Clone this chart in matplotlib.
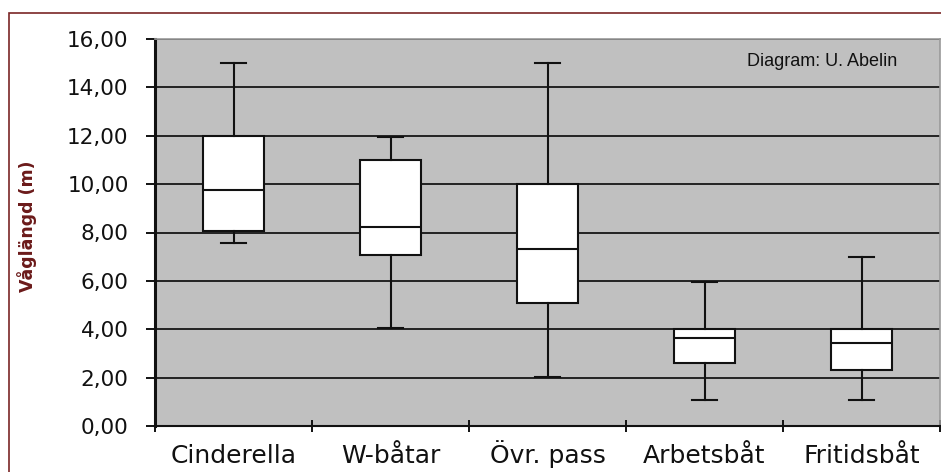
import matplotlib
matplotlib.use("Agg")
import matplotlib.pyplot as plt
from matplotlib.patches import Rectangle
from matplotlib.ticker import FixedLocator, FuncFormatter

# values (Våglängd, m)
categories = ['Cinderella', 'W-båtar', 'Övr. pass', 'Arbetsbåt', 'Fritidsbåt']
whislo = [7.55, 4.05, 2.04, 1.07, 1.07]
q1 = [8.05, 7.07, 5.07, 2.62, 2.31]
med = [9.74, 8.21, 7.30, 3.63, 3.44]
q3 = [12.0, 11.0, 10.0, 4.0, 4.0]
whishi = [15.0, 11.95, 15.0, 5.95, 7.0]

W, H = 941, 472
fig = plt.figure(figsize=(W / 100, H / 100), dpi=100)
ax = fig.add_axes([155 / W, (H - 426) / H, (940 - 155) / W, (426 - 39) / H])
ax.set_facecolor('#c0c0c0')

stats = []
for i, name in enumerate(categories):
    stats.append(dict(label=name, whislo=whislo[i], q1=q1[i], med=med[i],
                      q3=q3[i], whishi=whishi[i], fliers=[]))

lw = 1.5
ax.bxp(stats, positions=range(len(categories)), widths=0.39, capwidths=0.16,
       patch_artist=True, showfliers=False,
       boxprops=dict(facecolor='white', edgecolor='#111111', linewidth=lw),
       medianprops=dict(color='#111111', linewidth=lw),
       whiskerprops=dict(color='#111111', linewidth=lw),
       capprops=dict(color='#111111', linewidth=lw), zorder=3)

ax.set_xlim(-0.5, len(categories) - 0.5)
ax.set_ylim(0, 16)

# gridlines
ax.yaxis.set_major_locator(FixedLocator(range(0, 17, 2)))
ax.yaxis.set_major_formatter(FuncFormatter(lambda v, p: f'{v:.2f}'.replace('.', ',')))
ax.grid(axis='y', color='#222222', linewidth=1.4, zorder=1)
ax.set_axisbelow(True)

ax.set_xticks(range(len(categories)))
ax.set_xticklabels(categories)
for lab in ax.get_xticklabels():
    lab.set_verticalalignment('baseline')
ax.xaxis.set_minor_locator(FixedLocator([i - 0.5 for i in range(len(categories) + 1)]))
ax.tick_params(axis='x', which='major', length=0, pad=26.5, labelsize=18, labelcolor='#111111')
ax.tick_params(axis='x', which='minor', direction='inout', length=8, width=1.4, color='#111111')
ax.tick_params(axis='y', which='major', direction='out', length=6.5, width=1.4,
               color='#111111', pad=12.5, labelsize=15.5, labelcolor='#111111')

ax.spines['left'].set_linewidth(2.2)
ax.spines['left'].set_color('#111111')
ax.spines['bottom'].set_linewidth(1.5)
ax.spines['bottom'].set_color('#111111')
for s in ['top', 'right']:
    ax.spines[s].set_linewidth(1.2)
    ax.spines[s].set_color('#9a9a9a')

fig.text(27 / W, (H - 226) / H, 'Våglängd (m)', rotation=90, ha='center', va='center',
         fontsize=12.5, fontweight='bold', color='#6b1a1a', family='DejaVu Sans')

fig.text(747 / W, (H - 66) / H, 'Diagram: U. Abelin', ha='left', va='baseline',
         fontsize=13, color='#111111', family='Liberation Sans')

# outer chart frame, runs off the right and bottom edges
fig.patches.append(Rectangle((9 / W, -0.1), 2, (H - 13) / H + 0.1,
                             transform=fig.transFigure, fill=False,
                             edgecolor='#7a2626', linewidth=1.2))

fig.savefig('out.png', dpi=100)
